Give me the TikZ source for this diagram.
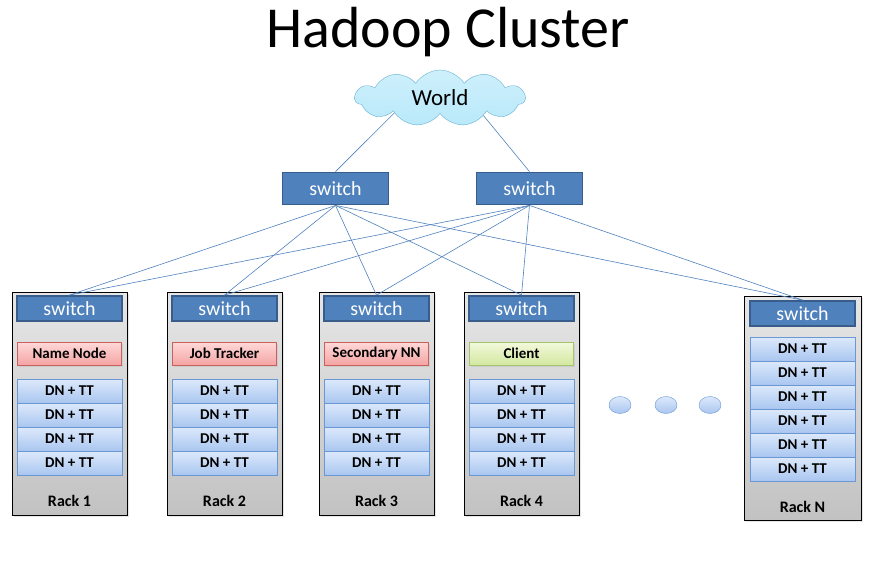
\documentclass[tikz,border=0pt]{standalone}
\usepackage{fontspec}
\setmainfont{Carlito}
\usetikzlibrary{shapes.symbols,shapes.geometric,shadows}
\definecolor{swfill}{HTML}{4F81BD}
\definecolor{swline}{HTML}{385D8A}
\definecolor{racktop}{HTML}{E6E6E6}
\definecolor{rackbot}{HTML}{C2C2C2}
\definecolor{dntop}{HTML}{DDE9FB}
\definecolor{dnbot}{HTML}{A9C6EF}
\definecolor{dnline}{HTML}{6A98D4}
\definecolor{pinktop}{HTML}{FFD9D9}
\definecolor{pinkbot}{HTML}{F4A4A4}
\definecolor{pinkline}{HTML}{C9605C}
\definecolor{greentop}{HTML}{F2F9DC}
\definecolor{greenbot}{HTML}{D3E8A0}
\definecolor{greenline}{HTML}{A6C46E}
\definecolor{cloudfill}{HTML}{B9E9FA}
\definecolor{cloudline}{HTML}{68B0D2}
\tikzset{
  rack/.style={draw=black, top color=racktop, bottom color=rackbot, anchor=north west,
    minimum width=115pt, minimum height=223pt, inner sep=0pt,
    drop shadow={opacity=0.2, shadow xshift=2pt, shadow yshift=-2pt}},
  switchbox/.style={draw=swline, line width=1.8pt, fill=swfill, text=white,
    font=\fontsize{20}{20}\selectfont, minimum width=105pt, minimum height=25pt, inner sep=0pt},
  topswitch/.style={switchbox, minimum width=106pt, minimum height=32pt},
  dnbox/.style={draw=dnline, top color=dntop, bottom color=dnbot, font=\bfseries\fontsize{15}{15}\selectfont,
    minimum width=105pt, minimum height=24pt, inner sep=0pt},
  pinkbox/.style={draw=pinkline, top color=pinktop, bottom color=pinkbot},
  greenbox/.style={draw=greenline, top color=greentop, bottom color=greenbot},
  rolebox/.style={font=\bfseries\fontsize{15}{15}\selectfont, minimum width=104pt, minimum height=23pt,
    inner sep=0pt, drop shadow={opacity=0.15, shadow xshift=1pt, shadow yshift=-1.5pt}},
  racklabel/.style={font=\bfseries\fontsize{16}{16}\selectfont},
  dot/.style={ellipse, draw=dnline, top color=dntop, bottom color=dnbot, minimum width=22pt, minimum height=17pt, inner sep=0pt},
  wire/.style={draw=swfill, line width=0.6pt}
}
\begin{document}
\begin{tikzpicture}[x=1pt,y=-1pt]
    \useasboundingbox (0,0) rectangle (872,560);
    \node[font=\fontsize{58}{58}\selectfont] (title) at (448,32) {Hadoop Cluster};
    % core
    \node[cloud, cloud puffs=11, cloud puff arc=115, aspect=3.1, draw=cloudline, top color=cloudfill!70!white, bottom color=cloudfill,
      minimum width=170pt, minimum height=56pt, inner sep=0pt, font=\fontsize{23}{23}\selectfont] (world) at (440,98) {World};
    \node[topswitch] (swL) at (335.5,188.5) {switch};
    \node[topswitch] (swR) at (529.5,188.5) {switch};
    \draw[wire] (world.198) -- (swL.north);
    \draw[wire] (world.338) -- (swR.north);
    % racks
    \foreach \i/\x/\role/\kind in {1/12/Name Node/pinkbox, 2/167/Job Tracker/pinkbox, 3/319/Secondary NN/pinkbox, 4/464/Client/greenbox}{
        \node[rack] (rack\i) at (\x,292) {};
        \node[switchbox] (sw\i) at (\x+57.5,308.5) {switch};
        \node[rolebox,\kind] (role\i) at (\x+57.5,353.5) {\role};
        \foreach \j in {1,...,4}
            \node[dnbox] (dn\i\j) at (\x+57.5,367+24*\j) {DN + TT};
        \node[racklabel] (name\i) at (\x+57.5,501) {Rack \i};
    }
    \node[rack, minimum width=117pt, minimum height=224pt] (rackN) at (744,296) {};
    \node[switchbox] (swN) at (802.5,313.5) {switch};
    \foreach \j in {1,...,6}
        \node[dnbox] (dnN\j) at (802.5,325+24*\j) {DN + TT};
    \node[racklabel] (nameN) at (802.5,507) {Rack N};
    % more racks
    \node[dot] (dotA) at (620,405) {};
    \node[dot] (dotB) at (666,405) {};
    \node[dot] (dotC) at (710,405) {};
    % uplinks
    \foreach \s in {swL,swR}{
        \foreach \r in {sw1,sw2,sw3,sw4,swN}
            \draw[wire] (\s.south) -- (\r.north);
    }
\end{tikzpicture}
\end{document}
